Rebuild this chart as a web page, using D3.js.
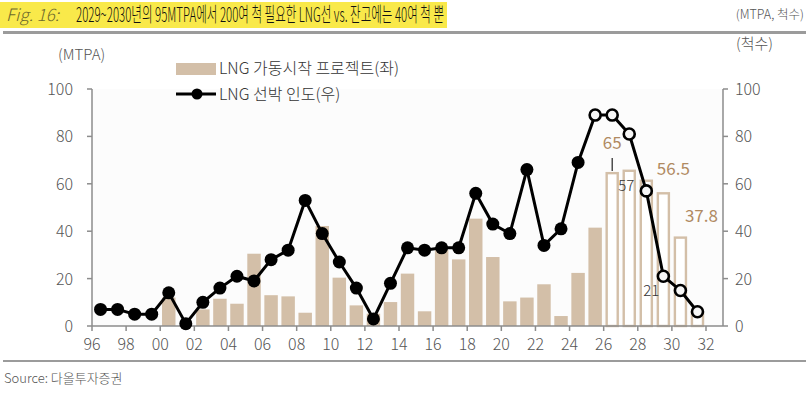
<!DOCTYPE html>
<html>
<head>
<meta charset="utf-8">
<script src="https://cdn.jsdelivr.net/npm/d3@7"></script>
<style>
  body { margin: 0; background: #fff; }
  svg text { font-family: "Noto Sans CJK KR", "Noto Sans", sans-serif; font-weight: 300; }
</style>
</head>
<body>
<svg id="chart" width="810" height="395"></svg>
<script>
// 연도 (1996~2031)
const years = d3.range(1996, 2032);

// LNG 가동시작 프로젝트 (MTPA, 좌축) - 2026년 이후는 전망치
const projects = [0, 0, 0, 0, 12, 0, 7, 11.5, 9.4, 30.5, 13, 12.5, 5.6, 42.2, 20.4, 8.7,
  5.2, 10.1, 22.1, 6.2, 32, 28.1, 45.3, 29.1, 10.4, 12, 17.6, 4.2, 22.4, 41.5,
  65, 66, 61.8, 56.5, 37.8, 6];

// LNG 선박 인도 (척수, 우축) - 2025년 이후는 전망치
const deliveries = [7, 7, 5, 5, 14, 1, 10, 16, 21, 19, 28, 32, 53, 39, 27, 16,
  3, 18, 33, 32, 33, 33, 56, 43, 39, 66, 34, 41, 69,
  89, 89, 81, 57, 21, 15, 6];

const yTicks = [0, 20, 40, 60, 80, 100];
const xTicks = d3.range(1996, 2033, 2);

const barForecastFrom = 2026;
const lineForecastFrom = 2025;

// 라벨
const barLabels = [
  { year: 2026, value: 65, text: "65", dx: 0, dy: -23 },
  { year: 2029, value: 56.5, text: "56.5", dx: 10, dy: -17 },
  { year: 2030, value: 37.8, text: "37.8", dx: 21, dy: -14 }
];
const lineLabels = [
  { year: 2028, value: 57, text: "57", dx: -20, dy: 0 },
  { year: 2029, value: 21, text: "21", dx: -12, dy: 20 }
];

const tan = "#d3bfa8";
const tanText = "#b08a62";
const axisColor = "#8c8c8c";
const labelColor = "#555";

const svg = d3.select("#chart");

// 제목
svg.append("rect").attr("x", 0).attr("y", 2).attr("width", 447).attr("height", 26).attr("fill", "#f9e94a");
svg.append("text").attr("x", 6).attr("y", 21).attr("font-size", 17).attr("font-style", "italic")
  .attr("fill", "#6e6a2c").attr("font-family", "Liberation Sans, sans-serif").text("Fig. 16:");
svg.append("text").attr("x", 76).attr("y", 22).attr("font-size", 20).attr("fill", "#111")
  .attr("textLength", 368).attr("lengthAdjust", "spacingAndGlyphs")
  .text("2029~2030년의 95MTPA에서 200여 척 필요한 LNG선 vs. 잔고에는 40여 척 뿐");
svg.append("text").attr("x", 804).attr("y", 19).attr("font-size", 12.5).attr("fill", labelColor)
  .attr("text-anchor", "end").text("(MTPA, 척수)");
svg.append("rect").attr("x", 3).attr("y", 31).attr("width", 803).attr("height", 3).attr("fill", "#9b9b9b");

// 하단
svg.append("rect").attr("x", 3).attr("y", 360).attr("width", 803).attr("height", 2).attr("fill", "#9b9b9b");
svg.append("text").attr("x", 4).attr("y", 383).attr("font-size", 13).attr("fill", labelColor).text("Source:  다올투자증권");

// 스케일
const x = d3.scaleLinear().domain([1996, 2032]).range([92, 706]);
const y = d3.scaleLinear().domain([0, 100]).range([326, 89]);
const band = x(1997) - x(1996);
const pad = 1.8;

// 플롯 배경
svg.append("rect").attr("x", 92).attr("y", 89).attr("width", 723 - 92).attr("height", 326 - 89).attr("fill", "#fcfcfc");

// 막대
const bars = years.map((yr, i) => ({ year: yr, value: projects[i] })).filter(d => d.value > 0);
svg.append("g").selectAll("rect").data(bars).enter().append("rect")
  .attr("x", d => x(d.year) + pad + (d.year >= barForecastFrom ? 1.2 : 0))
  .attr("y", d => y(d.value) + (d.year >= barForecastFrom ? 1.2 : 0))
  .attr("width", d => band - 2 * pad - (d.year >= barForecastFrom ? 2.4 : 0))
  .attr("height", d => y(0) - y(d.value) - (d.year >= barForecastFrom ? 1.2 : 0))
  .attr("fill", d => d.year >= barForecastFrom ? "#fff" : tan)
  .attr("stroke", d => d.year >= barForecastFrom ? tan : "none")
  .attr("stroke-width", 2.4);

// 축
const axisG = svg.append("g").attr("stroke", axisColor).attr("stroke-width", 1.5);
axisG.append("line").attr("x1", 92).attr("x2", 92).attr("y1", y(100)).attr("y2", y(0));
axisG.append("line").attr("x1", 723).attr("x2", 723).attr("y1", y(100)).attr("y2", y(0));
axisG.append("line").attr("x1", 92).attr("x2", 723).attr("y1", y(0)).attr("y2", y(0));
yTicks.forEach(t => {
  axisG.append("line").attr("x1", 87).attr("x2", 92).attr("y1", y(t)).attr("y2", y(t));
  axisG.append("line").attr("x1", 723).attr("x2", 728).attr("y1", y(t)).attr("y2", y(t));
});
xTicks.forEach(t => {
  axisG.append("line").attr("x1", x(t)).attr("x2", x(t)).attr("y1", y(0)).attr("y2", y(0) + 5);
});

const tickText = svg.append("g").attr("fill", labelColor).attr("font-size", 16);
yTicks.forEach(t => {
  tickText.append("text").attr("x", 73).attr("y", y(t) + 6).attr("text-anchor", "end").text(t);
  tickText.append("text").attr("x", 735).attr("y", y(t) + 6).text(t);
});
xTicks.forEach(t => {
  tickText.append("text").attr("x", x(t)).attr("y", 350).attr("text-anchor", "middle")
    .text(String(t % 100).padStart(2, "0"));
});

svg.append("text").attr("x", 58).attr("y", 60).attr("font-size", 15).attr("fill", labelColor).text("(MTPA)");
svg.append("text").attr("x", 736).attr("y", 49).attr("font-size", 15).attr("fill", labelColor).text("(척수)");

// 선
const pts = years.map((yr, i) => ({ year: yr, value: deliveries[i] }));
const line = d3.line().x(d => x(d.year) + band / 2).y(d => y(d.value));
svg.append("path").datum(pts).attr("d", line).attr("fill", "none").attr("stroke", "#000").attr("stroke-width", 3);
svg.append("g").selectAll("circle").data(pts).enter().append("circle")
  .attr("cx", d => x(d.year) + band / 2).attr("cy", d => y(d.value))
  .attr("r", d => d.year >= lineForecastFrom ? 5.5 : 6.5)
  .attr("fill", d => d.year >= lineForecastFrom ? "#f6f6f6" : "#000")
  .attr("stroke", "#000").attr("stroke-width", d => d.year >= lineForecastFrom ? 2.6 : 0);

// 라벨
barLabels.forEach(l => {
  svg.append("text").attr("x", x(l.year) + band / 2 + l.dx).attr("y", y(l.value) + l.dy)
    .attr("text-anchor", "middle").attr("font-size", 17).attr("fill", tanText)
    .style("font-weight", 400).text(l.text);
});
svg.append("line").attr("x1", x(2026) + band / 2).attr("x2", x(2026) + band / 2)
  .attr("y1", y(65) - 14).attr("y2", y(65) - 1).attr("stroke", "#222").attr("stroke-width", 1.2);
lineLabels.forEach(l => {
  svg.append("text").attr("x", x(l.year) + band / 2 + l.dx).attr("y", y(l.value) + l.dy)
    .attr("text-anchor", "middle").attr("font-size", 15).attr("fill", "#333").text(l.text);
});

// 범례
const lg = svg.append("g");
lg.append("rect").attr("x", 176).attr("y", 63).attr("width", 40).attr("height", 12).attr("fill", tan);
lg.append("text").attr("x", 219).attr("y", 74).attr("font-size", 16).attr("fill", "#333").text("LNG 가동시작 프로젝트(좌)");
lg.append("line").attr("x1", 176).attr("x2", 216).attr("y1", 94).attr("y2", 94).attr("stroke", "#000").attr("stroke-width", 3);
lg.append("circle").attr("cx", 197).attr("cy", 94).attr("r", 5.5).attr("fill", "#000");
lg.append("text").attr("x", 219).attr("y", 100).attr("font-size", 16).attr("fill", "#333").text("LNG 선박 인도(우)");
</script>
</body>
</html>
